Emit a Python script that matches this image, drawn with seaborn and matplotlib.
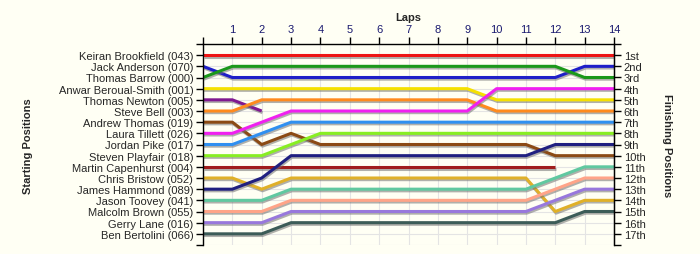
import matplotlib
matplotlib.use("Agg")
import matplotlib.pyplot as plt
import matplotlib.patheffects as pe
import seaborn as sns
import pandas as pd

sns.set_style("white")
plt.rcParams['font.family'] = ['Liberation Sans', 'DejaVu Sans']

drivers = [
    "Keiran Brookfield (043)", "Jack Anderson (070)", "Thomas Barrow (000)",
    "Anwar Beroual-Smith (001)", "Thomas Newton (005)", "Steve Bell (003)",
    "Andrew Thomas (019)", "Laura Tillett (026)", "Jordan Pike (017)",
    "Steven Playfair (018)", "Martin Capenhurst (004)", "Chris Bristow (052)",
    "James Hammond (089)", "Jason Toovey (041)", "Malcolm Brown (055)",
    "Gerry Lane (016)", "Ben Bertolini (066)",
]
finish_labels = ["1st", "2nd", "3rd", "4th", "5th", "6th", "7th", "8th", "9th",
                 "10th", "11th", "12th", "13th", "14th", "15th", "16th", "17th"]
lap_labels = ["", "1", "2", "3", "4", "5", "6", "7", "8", "9", "10", "11", "12", "13", "14"]

# positions for laps 0..14 (shorter lists = retired)
positions = [
    [1, 1, 1, 1, 1, 1, 1, 1, 1, 1, 1, 1, 1, 1, 1],
    [2, 3, 3, 3, 3, 3, 3, 3, 3, 3, 3, 3, 3, 2, 2],
    [3, 2, 2, 2, 2, 2, 2, 2, 2, 2, 2, 2, 2, 3, 3],
    [4, 4, 4, 4, 4, 4, 4, 4, 4, 4, 5, 5, 5, 5, 5],
    [5, 5, 6],
    [6, 6, 5, 5, 5, 5, 5, 5, 5, 5, 6, 6, 6, 6, 6],
    [7, 7, 9, 8, 9, 9, 9, 9, 9, 9, 9, 9, 10, 10, 10],
    [8, 8, 7, 6, 6, 6, 6, 6, 6, 6, 4, 4, 4, 4, 4],
    [9, 9, 8, 7, 7, 7, 7, 7, 7, 7, 7, 7, 7, 7, 7],
    [10, 10, 10, 9, 8, 8, 8, 8, 8, 8, 8, 8, 8, 8, 8],
    [11, 11, 11, 11, 11, 11, 11, 11, 11, 11, 11, 11, 11],
    [12, 12, 13, 12, 12, 12, 12, 12, 12, 12, 12, 12, 15, 14, 14],
    [13, 13, 12, 10, 10, 10, 10, 10, 10, 10, 10, 10, 9, 9, 9],
    [14, 14, 14, 13, 13, 13, 13, 13, 13, 13, 13, 13, 12, 11, 11],
    [15, 15, 15, 14, 14, 14, 14, 14, 14, 14, 14, 14, 13, 12, 12],
    [16, 16, 16, 15, 15, 15, 15, 15, 15, 15, 15, 15, 14, 13, 13],
    [17, 17, 17, 16, 16, 16, 16, 16, 16, 16, 16, 16, 16, 15, 15],
]
colors = [
    "#EE1414", "#1E1EC8", "#1A981A", "#F5E000", "#801890", "#FF8A1E",
    "#8B4A14", "#F020F0", "#3090F0", "#88EE22", "#A01C1C", "#E0B028",
    "#202080", "#60C8A0", "#FFA488", "#9878DC", "#3C5C58",
]

rows = []
for d, pos in zip(drivers, positions):
    for lap, p in enumerate(pos):
        rows.append({"driver": d, "lap": lap, "pos": p})
df = pd.DataFrame(rows)
palette = dict(zip(drivers, colors))

bg = "#FFFFF4"
fig = plt.figure(figsize=(7.0, 2.55), dpi=100, facecolor=bg)
ax = fig.add_axes([203/700, 1 - 246/255, (614 - 203)/700, (246 - 45)/255])
ax.set_facecolor(bg)

sns.lineplot(data=df, x="lap", y="pos", hue="driver", hue_order=drivers,
             palette=palette, linewidth=2.2, legend=False, ax=ax,
             estimator=None, sort=False)
for ln in ax.lines:
    ln.set_path_effects([pe.SimpleLineShadow(offset=(0.6, -1.2), shadow_color="#707070", alpha=0.55),
                         pe.Normal()])
    ln.set_solid_capstyle("butt")

ax.set_xlim(0, 14)
ax.set_ylim(18, 0)
ax.set_xticks(range(15))
ax.xaxis.tick_top()
ax.set_xticklabels(lap_labels, color="#1a1a70", fontsize=8)
ax.set_yticks(range(19))
ax.set_yticklabels([""] + drivers + [""], fontsize=8)
ax.grid(True, color="#E4E4E4", linewidth=0.8)
ax.set_axisbelow(True)
ax.set_xlabel("")
ax.set_ylabel("")
for s in ["left", "right", "top"]:
    ax.spines[s].set_visible(True)
    ax.spines[s].set_color("black")
    ax.spines[s].set_linewidth(1.0)
ax.spines["bottom"].set_visible(False)
ax.tick_params(axis="both", which="both", direction="out", length=5, width=1.0,
               color="black", pad=2)
ax.tick_params(axis="x", top=True, bottom=False, labeltop=True, labelbottom=False)
ax.tick_params(axis="y", left=True)

ax2 = ax.twinx()
ax2.set_ylim(18, 0)
ax2.set_yticks(range(19))
ax2.set_yticklabels([""] + finish_labels + [""], fontsize=8)
ax2.tick_params(axis="y", direction="out", length=5, width=1.0, color="black", pad=2)
for s in ["left", "top", "bottom"]:
    ax2.spines[s].set_visible(False)
ax2.spines["right"].set_visible(True)
ax2.spines["right"].set_color("black")
ax2.grid(False)

fig.text(408/700, 1 - 18/255, "Laps", ha="center", va="center", fontsize=8, fontweight="bold")
fig.text(28/700, 1 - 146/255, "Starting Positions", ha="center", va="center",
         rotation=90, fontsize=8, fontweight="bold")
fig.text(667/700, 1 - 146/255, "Finishing Positions", ha="center", va="center",
         rotation=270, fontsize=8, fontweight="bold")

fig.savefig("out.png", dpi=100, facecolor=bg)
